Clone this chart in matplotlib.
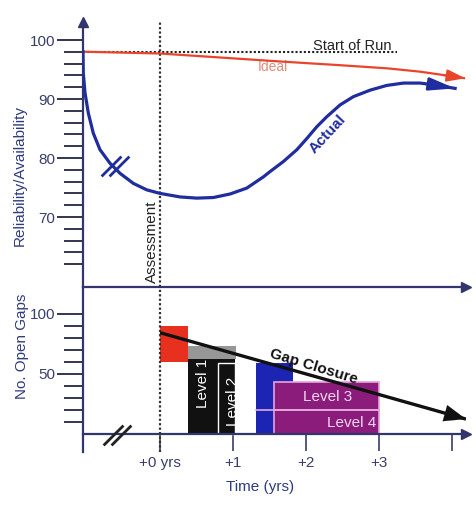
import matplotlib
matplotlib.use('Agg')
import matplotlib.pyplot as plt
from matplotlib.path import Path

plt.rcParams['font.family'] = ['Liberation Sans', 'DejaVu Sans']

# ---------------- data ----------------
actual_t = [-1.055, -1.051, -1.027, -0.982, -0.914, -0.822, -0.685, -0.548, -0.366, -0.182,
            0.000, 0.274, 0.503, 0.730, 0.959, 1.188, 1.415, 1.507, 1.689, 1.873,
            2.010, 2.147, 2.284, 2.466, 2.648, 2.877, 3.105, 3.333, 3.562, 3.744, 4.041]
actual_v = [98.0, 94.4, 91.0, 87.6, 84.2, 81.4, 79.1, 77.4, 75.7, 74.6,
            74.0, 73.4, 73.2, 73.3, 73.9, 74.9, 76.8, 77.7, 79.4, 81.4,
            83.3, 85.3, 87.0, 89.0, 90.4, 91.5, 92.3, 92.7, 92.7, 92.4, 91.8]
ideal_t = [-1.055, 0.0, 1.644, 2.425, 3.110, 3.562, 3.877, 4.178]
ideal_v = [98.02, 97.71, 96.36, 95.76, 95.20, 94.63, 94.07, 93.51]
start_of_run = 98
run_t = [-1.055, 3.25]
assessment_t = 0

bar_names = ['red', 'gray', 'Level 1', 'Level 2', 'blue', 'Level 3', 'Level 4']
bar_x0 = [0.00, 0.38, 0.38, 0.79, 1.32, 1.56, 1.56]
bar_x1 = [0.38, 1.04, 1.03, 1.03, 1.82, 3.00, 3.00]
bar_y0 = [60, 62, 0, 0, 0, 20, 0]
bar_y1 = [90, 73, 62, 59, 59, 43, 20]
gap_t = [0.0, 4.19]
gap_v = [84, 12]

top_major = [70, 80, 90, 100]
top_minor = [62, 64, 66, 68, 72, 74, 76, 78, 82, 84, 86, 88, 92, 94, 96, 98]
bot_major = [50, 100]
bot_minor = [10, 20, 30, 40, 60, 70, 80, 90]
xticks = [0, 1, 2, 3, 4]
xticklabels = ['+0 yrs', '+1', '+2', '+3', '']

# ---------------- style ----------------
AX = '#33366e'
TK = '#34354f'
LBL = '#3a3e6c'
BLUE = '#1f2d9e'
RED = '#e8452c'
bar_face = ['#e8301e', '#979797', '#111111', '#111111', '#1c24b4', '#8c1c7c', '#8c1c7c']
bar_edge = ['none', 'none', 'none', 'white', 'none', '#e3a6dc', '#e3a6dc']
bar_lw = [0, 0, 0, 1.0, 0, 1.2, 1.2]

W, H = 476, 507
fig = plt.figure(figsize=(W / 100, H / 100), dpi=100)

xl = (-1.055, 4.19)
ax1 = fig.add_axes([83 / W, 1 - 287 / H, (466 - 83) / W, (287 - 22) / H])
ax2 = fig.add_axes([83 / W, 1 - 452 / H, (466 - 83) / W, (452 - 287) / H])
for ax in (ax1, ax2):
    ax.set_xlim(*xl)
    ax.patch.set_alpha(0)
    for s in ('top', 'right'):
        ax.spines[s].set_visible(False)
    for s in ('left', 'bottom'):
        ax.spines[s].set_color(AX)
        ax.spines[s].set_linewidth(1.6)

ax1.set_ylim(100 - (287 - 40) / 5.9, 100 + (40 - 22) / 5.9)
ax2.set_ylim((433.5 - 452) / 1.2, (433.5 - 287) / 1.2)
ax2.spines['bottom'].set_position(('data', 0))

# ticks
ax1.set_yticks(top_major)
ax1.set_yticks(top_minor, minor=True)
ax1.tick_params(axis='x', bottom=False, labelbottom=False)
ax2.set_yticks(bot_major)
ax2.set_yticks(bot_minor, minor=True)
for ax in (ax1, ax2):
    ax.tick_params(axis='y', which='major', length=18.5, width=1.4, color=TK,
                   pad=1.5, labelsize=11, labelcolor=LBL)
    ax.tick_params(axis='y', which='minor', length=14, width=1.4, color=TK)
ax2.set_xticks(xticks)
ax2.set_xticklabels(xticklabels)
ax2.tick_params(axis='x', direction='out', length=12, width=1.3, color='#4a4c72',
                pad=4, labelsize=11, labelcolor=LBL)

# axis arrows
ax1.plot(0, 1, '^', transform=ax1.transAxes, clip_on=False, color=AX, ms=7)
ax1.plot(1, 0, '>', transform=ax1.transAxes, clip_on=False, color=AX, ms=7)
ax2.plot(1, 0, '>', transform=ax2.get_yaxis_transform(), clip_on=False, color=AX, ms=7)

# assessment line
for ax in (ax1, ax2):
    ax.axvline(assessment_t, color='#333333', lw=1.6, ls=(0, (1, 1)), zorder=3)
ax1.text(assessment_t - 0.11, 65.8, 'Assessment', rotation=90, ha='center', va='center',
         fontsize=11, color='#222222')

# start of run
ax1.plot(run_t, [start_of_run] * 2, color='#222222', lw=1.5, ls=(0, (1, 1)), zorder=4)
ax1.text(2.10, start_of_run + 0.25, 'Start of Run', fontsize=10.5, color='#222222',
         ha='left', va='baseline')

# ideal
ax1.plot(ideal_t, ideal_v, color=RED, lw=1.6, zorder=5, solid_capstyle='butt')
ax1.annotate('', xy=(ideal_t[-1], ideal_v[-1]), xytext=(ideal_t[-2], ideal_v[-2]),
             arrowprops=dict(arrowstyle='-|>,head_length=0.9,head_width=0.3',
                             color=RED, lw=1.6, shrinkA=0, shrinkB=0, mutation_scale=12),
             annotation_clip=False, zorder=5)
ax1.text(1.34, 95.4, 'Ideal', fontsize=10, color='#e38c7c', ha='left', va='center')

# actual
ax1.plot(actual_t, actual_v, color=BLUE, lw=2.3, zorder=6, solid_joinstyle='round')
ax1.annotate('', xy=(actual_t[-1], actual_v[-1]), xytext=(actual_t[-2], actual_v[-2]),
             arrowprops=dict(arrowstyle='-|>,head_length=1.3,head_width=0.32',
                             color=BLUE, lw=2, shrinkA=0, shrinkB=0, mutation_scale=12),
             annotation_clip=False, zorder=6)
ax1.text(2.29, 84.0, 'Actual', rotation=47, fontsize=11, fontweight='bold', color=BLUE,
         ha='center', va='center', rotation_mode='anchor')

# break marks
brk = Path([(-14, -10), (6, 10), (-6, -10), (14, 10)],
           [Path.MOVETO, Path.LINETO, Path.MOVETO, Path.LINETO])
ax1.plot([-0.62], [78.7], marker=brk, ms=20, mfc='none', mec=BLUE, mew=2, clip_on=False, zorder=7)
ax2.plot([-0.59], [-1], marker=brk, ms=20, mfc='none', mec='#222222', mew=2, clip_on=False, zorder=7)

# bars
bars = ax2.bar(bar_x0, [b - a for a, b in zip(bar_y0, bar_y1)],
               width=[b - a for a, b in zip(bar_x0, bar_x1)], bottom=bar_y0,
               align='edge', color=bar_face, edgecolor=bar_edge, linewidth=bar_lw, zorder=2)
ax2.plot([bar_x0[4], bar_x1[6]], [bar_y1[6]] * 2, color='#e3a6dc', lw=1.2, zorder=2.5)

t1 = ax2.text(0.59, 42, 'Level 1', rotation=90, ha='center', va='center',
              fontsize=11, color='white', zorder=3)
t1.set_clip_path(bars[2])
t2 = ax2.text(1.0, 27, 'Level 2', rotation=90, ha='center', va='center',
              fontsize=11, color='white', zorder=3)
t2.set_clip_path(bars[3])
ax2.text(2.29, 30.4, 'Level 3', ha='center', va='center', fontsize=11, color='#f2d8ee', zorder=3)
ax2.text(2.62, 8.7, 'Level 4', ha='center', va='center', fontsize=11, color='#f2d8ee', zorder=3)

# gap closure
ax2.plot(gap_t, gap_v, color='#111111', lw=2.4, zorder=4, solid_capstyle='butt')
ax2.annotate('', xy=(gap_t[-1], gap_v[-1]), xytext=(gap_t[0], gap_v[0]),
             arrowprops=dict(arrowstyle='-|>,head_length=1.3,head_width=0.5',
                             color='#111111', lw=0.1, shrinkA=0, shrinkB=0, mutation_scale=12),
             annotation_clip=False, zorder=4)
ax2.text(2.10, 55.4, 'Gap Closure', rotation=-17, fontsize=11, fontweight='bold',
         color='#111111', ha='center', va='center', rotation_mode='anchor', zorder=5)

# axis titles
fig.text(20 / W, 1 - 176 / H, 'Reliability/Availability', rotation=90, ha='center',
         va='center', fontsize=11, color='#2e3b7e')
fig.text(22 / W, 1 - 346 / H, 'No. Open Gaps', rotation=90, ha='center',
         va='center', fontsize=11, color='#2e3b7e')
fig.text(260 / W, 1 - 487 / H, 'Time (yrs)', ha='center', va='center',
         fontsize=11, color='#2e3b7e')

fig.savefig('out.png', dpi=100)
